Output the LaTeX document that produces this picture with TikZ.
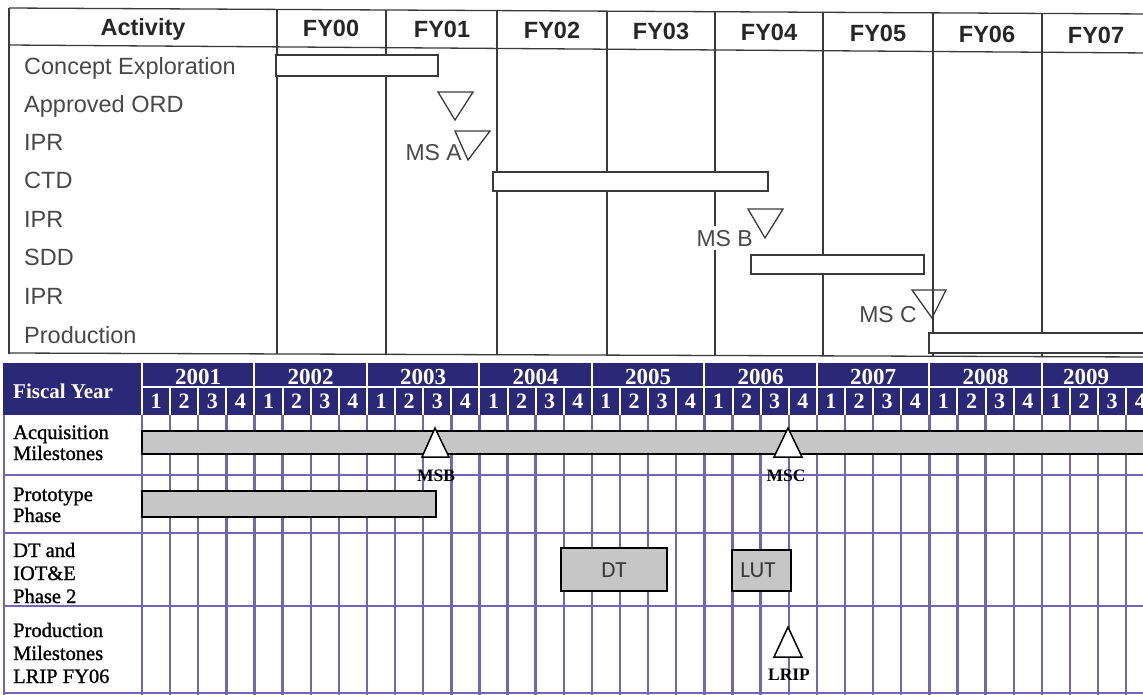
\documentclass[tikz,border=0pt]{standalone}
\usepackage{fontspec}
\setmainfont{Liberation Serif}
\setsansfont{Liberation Sans}
\newfontfamily\calibfont{Carlito}
\newfontfamily\semiserif[FakeBold=1.1]{Liberation Serif}
\definecolor{navy}{RGB}{44,40,120}
\definecolor{lav}{RGB}{114,102,180}
\definecolor{barg}{RGB}{198,198,198}
\definecolor{ink}{RGB}{58,58,58}
\definecolor{inkt}{RGB}{72,72,72}
\begin{document}
\begin{tikzpicture}[x=1pt,y=-1pt,
  tline/.style={draw=ink,line width=1.3pt},
  tbar/.style={draw=ink,line width=1.3pt,fill=white},
  ttri/.style={draw=ink,line width=1.3pt,line join=miter},
  hdr/.style={font=\sffamily\bfseries\fontsize{23.5}{27}\selectfont,text=black!85,anchor=base,inner sep=0},
  rowlab/.style={font=\sffamily\fontsize{23.5}{27}\selectfont,text=inkt,anchor=base west,inner sep=0},
  mslab/.style={font=\sffamily\fontsize{23}{27}\selectfont,text=inkt,anchor=base east,inner sep=0},
  gridl/.style={draw=lav,line width=2.4pt},
  wline/.style={draw=white,line width=2pt},
  gbar/.style={draw=black,line width=1.4pt,fill=barg},
  btri/.style={draw=black,line width=1.5pt,fill=white,line join=miter},
  yr/.style={font=\bfseries\fontsize{23}{26}\selectfont,text=white,inner sep=0},
  qn/.style={font=\bfseries\fontsize{22}{26}\selectfont,text=white,inner sep=0},
  blab/.style={font=\semiserif\fontsize{20.5}{22}\selectfont,text=black,anchor=base west,inner sep=0},
  mlab/.style={font=\bfseries\fontsize{17.5}{20}\selectfont,text=black,inner sep=0},
  boxlab/.style={font=\calibfont\fontsize{23}{27}\selectfont,text=ink,inner sep=0}
]
\useasboundingbox (0,0) rectangle (1143,694);
\clip (0,0) rectangle (1143,694);

% ================= TOP CHART =================
\draw[tline] (9,8) -- (1150,14);
\draw[tline] (9,45) -- (1150,53);
\draw[tline] (9,8) -- (9,354);
\draw[tline] (9,353) -- (1150,357);
\foreach \x in {277,386,497,607,715,823,933,1042}
  \draw[tline] (\x,{8+(\x-9)*6/1141}) -- (\x,{353+(\x-9)*4/1141});

% header texts
\node[hdr] (hAct) at (143,35) {Activity};
\node[hdr] (h00) at (331,{35+(331-143)*8/952}) {FY00};
\node[hdr] (h01) at (442,{35+(442-143)*8/952}) {FY01};
\node[hdr] (h02) at (552,{35+(552-143)*8/952}) {FY02};
\node[hdr] (h03) at (661,{35+(661-143)*8/952}) {FY03};
\node[hdr] (h04) at (769,{35+(769-143)*8/952}) {FY04};
\node[hdr] (h05) at (878,{35+(878-143)*8/952}) {FY05};
\node[hdr] (h06) at (987,{35+(987-143)*8/952}) {FY06};
\node[hdr] (h07) at (1096,{35+(1096-143)*8/952}) {FY07};

% row labels
\node[rowlab] (rCE)  at (24,74)  {Concept Exploration};
\node[rowlab] (rORD) at (24,112) {Approved ORD};
\node[rowlab] (rIPR1) at (24,150) {IPR};
\node[rowlab] (rCTD) at (24,188) {CTD};
\node[rowlab] (rIPR2) at (24,227) {IPR};
\node[rowlab] (rSDD) at (24,265) {SDD};
\node[rowlab] (rIPR3) at (24,304) {IPR};
\node[rowlab] (rProd) at (24,343) {Production};

% bars
\draw[tbar] (276,55) rectangle (438,76);
\draw[tbar] (493,172) rectangle (768,191);
\draw[tbar] (751,255) rectangle (924,274);
\draw[tbar] (929,333) rectangle (1150,353);

% milestone triangles
\draw[ttri] (438,92) -- (473,92) -- (455,120) -- cycle;
\draw[ttri] (455,131) -- (490,131) -- (468,160) -- cycle;
\draw[ttri] (748,209) -- (783,209) -- (765,238) -- cycle;
\draw[ttri] (912,290) -- (946,290) -- (932,318) -- cycle;

\node[mslab] (lMSA) at (462,160) {MS A};
\node[mslab,fill=white,inner sep=4pt] (lMSB) at (757,246) {MS B};
\node[mslab] (lMSC) at (917,322) {MS C};

% ================= BOTTOM CHART =================
\fill[navy] (3,363) rectangle (1150,415);
\draw[wline] (142,363) -- (142,415);
\draw[wline] (142,387) -- (1150,387);
\foreach \k in {1,...,8}
  \draw[wline] ({142+112.48*\k},363) -- ({142+112.48*\k},387);
\foreach \i in {1,...,36}
  \draw[wline] ({142+28.12*\i},387) -- ({142+28.12*\i},415);

\node[font=\bfseries\fontsize{21}{24}\selectfont,text=white,anchor=base west,inner sep=0] (fy) at (13,398) {Fiscal Year};
\foreach \k/\yy in {0/2001,1/2002,2/2003,3/2004,4/2005,5/2006,6/2007,7/2008}
  \node[yr] (y\yy) at ({142+112.48*(\k+0.5)},377) {\yy};
\node[yr] (y2009) at (1086,377) {2009};
\foreach \i in {0,...,35}{
  \pgfmathtruncatemacro\q{mod(\i,4)+1}
  \node[qn] (q\i) at ({142+28.12*(\i+0.5)},401) {\q};
}

% grid
\foreach \i in {0,...,36}
  \draw[gridl] ({142+28.12*\i},415) -- ({142+28.12*\i},700);
\draw[gridl] (4,415) -- (4,700);
\foreach \yy in {475,533,606,693}
  \draw[gridl] (3,\yy) -- (1150,\yy);

% row labels
\node[blab] (a1) at (13,439) {Acquisition};
\node[blab] (a2) at (13,460) {Milestones};
\node[blab] (p1) at (13,501) {Prototype};
\node[blab] (p2) at (13,522) {Phase};
\node[blab] (d1) at (13,557) {DT and};
\node[blab] (d2) at (13,580) {IOT\&E};
\node[blab] (d3) at (13,603) {Phase 2};
\node[blab] (m1) at (13,637) {Production};
\node[blab] (m2) at (13,660) {Milestones};
\node[blab] (m3) at (13,683) {LRIP FY06};

% bars
\draw[gbar] (142,431) rectangle (1155,454);
\draw[gbar] (142,491) rectangle (436,517);
\draw[gbar] (561,548) rectangle (667,591);
\draw[gbar] (732,550) rectangle (791,591);
\node[boxlab] (tDT) at (614,570) {DT};
\node[boxlab] (tLUT) at (758,570) {LUT};

% triangles
\draw[btri] (422,457) -- (449,457) -- (435,428) -- cycle;
\draw[btri] (774,457) -- (802,457) -- (788,428) -- cycle;
\draw[btri] (774,657) -- (802,657) -- (788,627) -- cycle;
\node[mlab] (lMSBb) at (436,476) {MSB};
\node[mlab] (lMSCb) at (786,476) {MSC};
\node[mlab] (lLRIP) at (789,675) {LRIP};
\end{tikzpicture}
\end{document}
